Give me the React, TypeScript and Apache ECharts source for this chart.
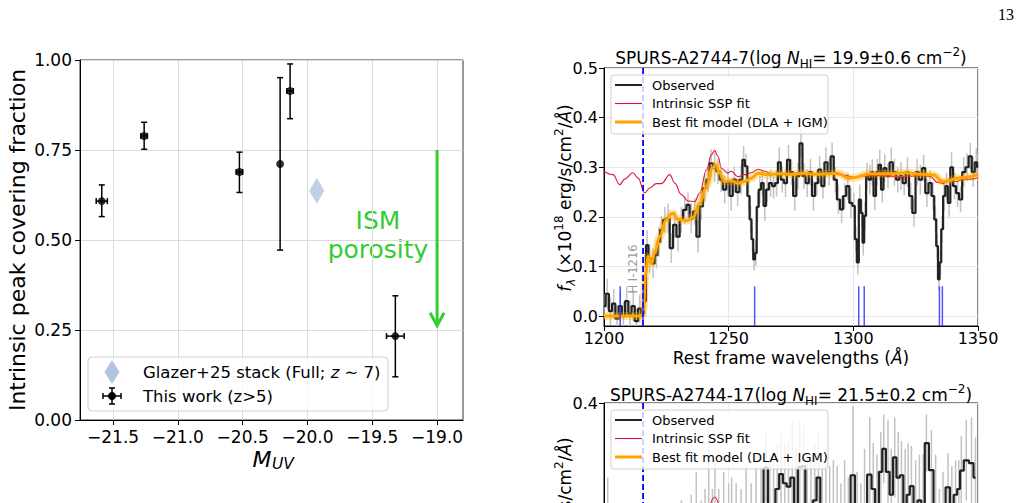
import React, { useEffect, useRef } from "react";
import * as echarts from "echarts";

const FONT = "DejaVu Sans";
const GREEN = "#32cd32";

// ---- Left panel: intrinsic peak covering fraction vs M_UV ----
const MUV = [-21.587, -21.26, -20.525, -20.211, -20.134, -19.322];
const MUV_ERR = [0.043, 0.025, 0.025, 0.0, 0.025, 0.068];
const FCOV = [0.608, 0.789, 0.689, 0.711, 0.914, 0.233];
const FCOV_LO = [0.565, 0.752, 0.632, 0.472, 0.837, 0.12];
const FCOV_HI = [0.653, 0.827, 0.744, 0.951, 0.989, 0.345];
const GLAZER_MUV = [-19.928];
const GLAZER_FCOV = [0.637];
const ARROW = [-19.0, 0.75, 0.262]; // x, start, end of the porosity arrow
const MUV_TICKS = [-21.5, -21.0, -20.5, -20.0, -19.5, -19.0];
const FCOV_TICKS = [0, 0.25, 0.5, 0.75, 1.0];

// ---- Right panels: spectra ----
const WAVE_TICKS = [1200, 1250, 1300, 1350];
const A7_FLUX_TICKS = [0, 0.1, 0.2, 0.3, 0.4, 0.5];
const A17_FLUX_TICKS = [0, 0.2, 0.4];
const LYA = 1215.67;
const ISM_LINES = [1206.5, 1215.67, 1260.42, 1302.17, 1304.37, 1334.53, 1335.71];

// [wavelength, flux, error]
const A7_OBSERVED = [
  [1200.0, 0.02, 0.025], [1201.3, 0.045, 0.03], [1202.6, 0.01, 0.028], [1203.9, 0.025, 0.03],
  [1205.2, -0.005, 0.027], [1206.5, 0.02, 0.03], [1207.8, 0.0, 0.028], [1209.1, 0.03, 0.03],
  [1210.4, 0.005, 0.026], [1211.7, 0.02, 0.03], [1213.0, -0.01, 0.025], [1214.3, 0.015, 0.028],
  [1215.4, 0.005, 0.025], [1216.4, 0.03, 0.03], [1217.3, 0.143, 0.03], [1218.3, 0.116, 0.028],
  [1219.7, 0.106, 0.03], [1221.0, 0.123, 0.027], [1222.0, 0.15, 0.03], [1223.0, 0.174, 0.028],
  [1224.4, 0.194, 0.026], [1225.7, 0.197, 0.03], [1227.0, 0.137, 0.03], [1228.4, 0.184, 0.027],
  [1229.7, 0.16, 0.03], [1231.0, 0.194, 0.026], [1232.4, 0.214, 0.028], [1233.7, 0.224, 0.025],
  [1235.0, 0.197, 0.03], [1236.4, 0.211, 0.027], [1237.7, 0.16, 0.032], [1239.0, 0.221, 0.028],
  [1240.4, 0.258, 0.027], [1241.7, 0.275, 0.025], [1243.0, 0.308, 0.028], [1244.4, 0.30, 0.03],
  [1245.7, 0.292, 0.026], [1247.0, 0.275, 0.025], [1248.4, 0.255, 0.028], [1249.7, 0.27, 0.027],
  [1251.0, 0.242, 0.03], [1252.3, 0.275, 0.026], [1253.6, 0.25, 0.028], [1255.0, 0.275, 0.03],
  [1256.0, 0.315, 0.028], [1257.0, 0.302, 0.025], [1258.0, 0.242, 0.03], [1258.8, 0.195, 0.027],
  [1259.5, 0.155, 0.025], [1260.2, 0.114, 0.022], [1260.9, 0.127, 0.025], [1261.6, 0.22, 0.03],
  [1262.5, 0.255, 0.027], [1263.5, 0.268, 0.025], [1264.5, 0.222, 0.03], [1265.5, 0.255, 0.026],
  [1266.8, 0.268, 0.028], [1268.0, 0.262, 0.025], [1269.2, 0.268, 0.027], [1270.3, 0.31, 0.03],
  [1271.5, 0.275, 0.026], [1272.8, 0.268, 0.028], [1274.0, 0.315, 0.03], [1275.2, 0.29, 0.026],
  [1276.5, 0.242, 0.03], [1277.8, 0.282, 0.027], [1279.0, 0.348, 0.028], [1280.2, 0.282, 0.026],
  [1281.5, 0.268, 0.028], [1282.8, 0.29, 0.027], [1284.0, 0.242, 0.03], [1285.3, 0.268, 0.026],
  [1286.5, 0.295, 0.028], [1287.8, 0.262, 0.025], [1289.0, 0.31, 0.03], [1290.3, 0.29, 0.027],
  [1291.5, 0.322, 0.028], [1292.8, 0.275, 0.026], [1294.0, 0.235, 0.03], [1295.3, 0.215, 0.027],
  [1296.5, 0.242, 0.026], [1297.8, 0.262, 0.028], [1299.0, 0.228, 0.03], [1300.2, 0.222, 0.026],
  [1301.0, 0.155, 0.025], [1301.8, 0.108, 0.024], [1302.6, 0.235, 0.03], [1303.4, 0.208, 0.027],
  [1304.0, 0.148, 0.026], [1304.7, 0.202, 0.028], [1305.5, 0.282, 0.027], [1306.6, 0.275, 0.03],
  [1307.6, 0.29, 0.026], [1308.6, 0.242, 0.028], [1309.6, 0.29, 0.027], [1310.6, 0.305, 0.03],
  [1311.6, 0.255, 0.026], [1312.6, 0.298, 0.028], [1313.9, 0.282, 0.025], [1315.2, 0.31, 0.03],
  [1316.5, 0.29, 0.027], [1317.8, 0.275, 0.026], [1319.1, 0.282, 0.028], [1320.4, 0.268, 0.025],
  [1321.7, 0.29, 0.03], [1323.0, 0.242, 0.027], [1324.3, 0.208, 0.028], [1325.6, 0.29, 0.026],
  [1326.9, 0.275, 0.03], [1328.2, 0.298, 0.027], [1329.5, 0.248, 0.028], [1330.8, 0.268, 0.026],
  [1332.0, 0.242, 0.028], [1332.9, 0.195, 0.026], [1333.6, 0.141, 0.025], [1334.3, 0.074, 0.022],
  [1334.9, 0.108, 0.025], [1335.6, 0.175, 0.027], [1336.4, 0.242, 0.03], [1337.4, 0.262, 0.027],
  [1338.4, 0.228, 0.028], [1339.4, 0.30, 0.03], [1340.6, 0.262, 0.027], [1341.8, 0.248, 0.028],
  [1343.0, 0.235, 0.026], [1344.3, 0.29, 0.03], [1345.6, 0.30, 0.028], [1346.9, 0.322, 0.027],
  [1348.1, 0.29, 0.03], [1349.3, 0.31, 0.028], [1350.0, 0.30, 0.027],
];

const A7_SSP = [
  [1200.0, 0.292], [1203.6, 0.285], [1206.3, 0.265], [1208.3, 0.276], [1211.6, 0.289],
  [1213.7, 0.278], [1216.3, 0.248], [1218.3, 0.258], [1221.0, 0.267], [1223.0, 0.267],
  [1226.4, 0.285], [1228.4, 0.268], [1231.0, 0.245], [1233.7, 0.232], [1236.4, 0.231],
  [1238.4, 0.248], [1241.1, 0.295], [1243.1, 0.325], [1244.4, 0.334], [1245.7, 0.322],
  [1247.1, 0.298], [1249.7, 0.288], [1251.0, 0.292], [1253.7, 0.281], [1256.4, 0.285],
  [1259.1, 0.289], [1261.8, 0.296], [1264.4, 0.292], [1267.1, 0.287], [1272.0, 0.286],
  [1278.0, 0.289], [1284.0, 0.287], [1290.0, 0.288], [1296.0, 0.284], [1301.0, 0.280],
  [1306.0, 0.283], [1312.0, 0.283], [1318.0, 0.281], [1324.0, 0.282], [1328.0, 0.284],
  [1331.0, 0.281], [1333.5, 0.270], [1336.0, 0.267], [1338.7, 0.275], [1341.3, 0.271],
  [1344.0, 0.276], [1347.0, 0.276], [1350.0, 0.279],
];

const A7_MODEL = [
  [1200.0, 0.0], [1215.3, 0.0], [1215.8, 0.012], [1216.7, 0.086], [1217.7, 0.12],
  [1219.0, 0.106], [1220.3, 0.127], [1222.3, 0.16], [1225.0, 0.194], [1227.4, 0.207],
  [1229.7, 0.195], [1233.0, 0.192], [1235.7, 0.199], [1238.4, 0.228], [1241.1, 0.261],
  [1243.5, 0.298], [1244.8, 0.305], [1246.4, 0.288], [1248.4, 0.271], [1251.0, 0.273],
  [1253.7, 0.268], [1256.4, 0.271], [1259.1, 0.278], [1261.8, 0.288], [1265.8, 0.285],
  [1269.8, 0.287], [1275.0, 0.286], [1280.0, 0.288], [1285.0, 0.286], [1290.0, 0.287],
  [1293.9, 0.288], [1297.9, 0.278], [1300.0, 0.279], [1306.6, 0.287], [1314.6, 0.287],
  [1321.3, 0.289], [1327.0, 0.286], [1332.0, 0.285], [1336.0, 0.271], [1338.5, 0.273],
  [1341.3, 0.278], [1345.0, 0.280], [1350.0, 0.285],
];

// [wavelength, flux, error]
const A17_OBSERVED = [
  [1200.5, 0.02, 0.1], [1201.5, 0.05, 0.22], [1203.0, 0.01, 0.08], [1205.0, 0.03, 0.09],
  [1207.0, -0.01, 0.08], [1209.0, 0.02, 0.1], [1211.0, 0.0, 0.09], [1213.0, 0.03, 0.08],
  [1215.0, 0.01, 0.09], [1217.0, 0.04, 0.1], [1219.0, 0.06, 0.1], [1221.0, 0.03, 0.12],
  [1223.0, 0.08, 0.1], [1225.0, 0.05, 0.12], [1227.0, 0.1, 0.1], [1229.0, 0.07, 0.12],
  [1231.0, 0.12, 0.11], [1233.0, 0.09, 0.12], [1235.0, 0.14, 0.1], [1237.0, 0.16, 0.12],
  [1239.0, 0.11, 0.12], [1240.5, 0.15, 0.1], [1242.0, 0.2, 0.18], [1243.5, 0.15, 0.1],
  [1244.5, 0.18, 0.12], [1246.0, 0.14, 0.11], [1248.0, 0.19, 0.09], [1250.0, 0.16, 0.1],
  [1251.2, 0.18, 0.09], [1253.0, 0.2, 0.06], [1255.0, 0.15, 0.1], [1257.0, 0.21, 0.08],
  [1259.0, 0.17, 0.09], [1261.0, 0.22, 0.07], [1263.0, 0.19, 0.1], [1265.0, 0.287, 0.06],
  [1266.5, 0.22, 0.09], [1268.0, 0.2, 0.1], [1269.5, 0.25, 0.08], [1271.0, 0.276, 0.07],
  [1272.5, 0.26, 0.07], [1274.0, 0.254, 0.08], [1275.5, 0.27, 0.1], [1277.0, 0.2, 0.12],
  [1278.5, 0.288, 0.08], [1280.0, 0.29, 0.07], [1281.5, 0.21, 0.1], [1283.0, 0.18, 0.12],
  [1284.5, 0.23, 0.1], [1286.0, 0.27, 0.08], [1287.5, 0.2, 0.09], [1289.0, 0.22, 0.1],
  [1290.5, 0.17, 0.12], [1292.0, 0.21, 0.09], [1293.5, 0.19, 0.1], [1295.0, 0.15, 0.11],
  [1296.5, 0.2, 0.1], [1298.0, 0.18, 0.09], [1299.8, 0.274, 0.12], [1301.5, 0.2, 0.08],
  [1303.0, 0.17, 0.09], [1304.5, 0.22, 0.1], [1306.6, 0.275, 0.1], [1308.0, 0.25, 0.08],
  [1309.5, 0.21, 0.1], [1311.0, 0.28, 0.07], [1312.2, 0.32, 0.06], [1313.9, 0.28, 0.09],
  [1315.2, 0.24, 0.08], [1316.6, 0.305, 0.07], [1318.0, 0.27, 0.08], [1319.3, 0.274, 0.06],
  [1320.8, 0.22, 0.1], [1322.0, 0.24, 0.09], [1323.3, 0.255, 0.07], [1325.0, 0.2, 0.1],
  [1326.5, 0.23, 0.08], [1328.0, 0.21, 0.1], [1329.3, 0.33, 0.05], [1331.3, 0.283, 0.07],
  [1333.0, 0.22, 0.09], [1334.5, 0.15, 0.1], [1336.0, 0.2, 0.08], [1338.0, 0.253, 0.06],
  [1339.5, 0.22, 0.07], [1341.0, 0.24, 0.06], [1342.3, 0.25, 0.05], [1343.3, 0.282, 0.06],
  [1345.3, 0.3, 0.07], [1347.4, 0.295, 0.08], [1349.0, 0.27, 0.07],
];

const A17_SSP = [
  [1200, 0.2], [1206, 0.18], [1212, 0.2], [1216, 0.17], [1222, 0.185], [1227, 0.2],
  [1232, 0.17], [1236, 0.16], [1240, 0.2], [1244.4, 0.236], [1248, 0.205], [1255, 0.2],
  [1265, 0.205], [1280, 0.2], [1300, 0.195], [1320, 0.2], [1334, 0.185], [1350, 0.195],
];

const minus = (s: string) => s.replace("-", "\u2212");

function axisBase(fontSize: number, margin: number, ticks: number[] | null, fmt: (v: number) => string, gridColor: string) {
  const label: any = { color: "#000", fontSize, margin, fontFamily: FONT, formatter: fmt };
  const tick: any = { show: true, length: 5, lineStyle: { color: "#000", width: 1 } };
  if (ticks) {
    label.customValues = ticks;
    tick.customValues = ticks;
  }
  return {
    axisLine: { show: true, onZero: false, lineStyle: { color: "#000", width: 1 } },
    axisTick: tick,
    axisLabel: label,
    splitLine: { show: true, lineStyle: { color: gridColor, width: 1 } },
  };
}

function renderSpecErr(_p: any, api: any) {
  const x = api.value(0);
  const f = api.value(1);
  const e = api.value(2);
  const a = api.coord([x, f - e]);
  const b = api.coord([x, f + e]);
  return {
    type: "line",
    shape: { x1: a[0], y1: a[1], x2: b[0], y2: b[1] },
    style: { stroke: "#c2c2c2", lineWidth: 1.5 },
  };
}

function spectrumSeries(idx: number, obs: number[][], ssp: number[][], model: number[][] | null, ymin: number, ymax: number) {
  const s: any[] = [
    {
      type: "custom", xAxisIndex: idx, yAxisIndex: idx, clip: true,
      renderItem: renderSpecErr, encode: { x: 0, y: 1 },
      data: obs, z: 2,
    },
    {
      type: "line", xAxisIndex: idx, yAxisIndex: idx, step: "middle", showSymbol: false,
      data: obs.map((d) => [d[0], d[1]]),
      lineStyle: { color: "#222", width: 2.2 }, z: 3,
    },
    {
      type: "line", xAxisIndex: idx, yAxisIndex: idx, smooth: 0.4, smoothMonotone: "x", showSymbol: false,
      data: ssp, lineStyle: { color: "#dc143c", width: 1.1 }, z: 4,
    },
  ];
  if (model) {
    s.push(
      {
        type: "line", xAxisIndex: idx, yAxisIndex: idx, smooth: 0.4, smoothMonotone: "x", showSymbol: false,
        data: model, lineStyle: { color: "rgba(255,165,0,0.3)", width: 8 }, z: 5,
      },
      {
        type: "line", xAxisIndex: idx, yAxisIndex: idx, smooth: 0.4, smoothMonotone: "x", showSymbol: false,
        data: model, lineStyle: { color: "#ffa500", width: 3 }, z: 6,
      }
    );
  }
  s.push({
    type: "line", xAxisIndex: idx, yAxisIndex: idx, showSymbol: false,
    data: [[LYA, ymin], [LYA, ymax]],
    lineStyle: { color: "#0000ff", width: 1.8, type: [6, 3] }, z: 7,
  });
  return s;
}

function spectrumLegend(top: number) {
  const items = [
    { label: "Observed", color: "#222", width: 2 },
    { label: "Intrinsic SSP fit", color: "#dc143c", width: 1.1 },
    { label: "Best fit model (DLA + IGM)", color: "#ffa500", width: 3 },
  ];
  const els: any[] = [
    {
      type: "rect", z: 100,
      shape: { x: 611, y: top, width: 217, height: 59, r: 3 },
      style: { fill: "rgba(255,255,255,0.8)", stroke: "#d0d0d0", lineWidth: 1 },
    },
  ];
  items.forEach((it, i) => {
    const y = top + 10 + i * 18.5;
    els.push({
      type: "line", z: 101,
      shape: { x1: 615, y1: y, x2: 642, y2: y },
      style: { stroke: it.color, lineWidth: it.width },
    });
    els.push({
      type: "text", z: 101, x: 652, y,
      style: { text: it.label, fill: "#000", fontSize: 13, fontFamily: FONT, align: "left", verticalAlign: "middle" },
    });
  });
  return els;
}

const richBase = (size: number) => ({
  n: { fontSize: size, fontFamily: FONT, fill: "#000", lineHeight: 24 },
  i: { fontSize: size, fontFamily: FONT, fontStyle: "italic", fill: "#000", lineHeight: 24 },
  sub: { fontSize: Math.round(size * 0.7), fontFamily: FONT, fill: "#000", lineHeight: 12, verticalAlign: "bottom" },
  subi: { fontSize: Math.round(size * 0.7), fontFamily: FONT, fontStyle: "italic", fill: "#000", lineHeight: 12, verticalAlign: "bottom" },
  sup: { fontSize: Math.round(size * 0.7), fontFamily: FONT, fill: "#000", lineHeight: 12, verticalAlign: "top" },
});

function titleText(x: number, y: number, name: string, nhi: string) {
  return {
    type: "text", x, y, z: 50,
    style: {
      text: `{n|${name}(log }{i|N}{sub|HI}{n|= ${nhi} cm}{sup|\u22122}{n|)}`,
      rich: richBase(17), align: "center", verticalAlign: "middle",
    },
  };
}

function fluxLabel(x: number, y: number) {
  return {
    type: "text", x, y, z: 50, rotation: Math.PI / 2,
    style: {
      text: "{i|f}{subi|\u03bb}{n| (\u00d710}{sup|18}{n| erg/s/cm}{sup|2}{n|/}{i|\u00c5}{n|)}",
      rich: richBase(17), align: "center", verticalAlign: "middle",
    },
  };
}

function buildOption(): any {
  const covData = MUV.map((m, i) => [m, FCOV[i], MUV_ERR[i], FCOV_LO[i], FCOV_HI[i]]);

  const graphic: any[] = [
    // page number
    {
      type: "text", x: 1006, y: 14,
      style: { text: "13", fill: "#000", fontSize: 16, fontFamily: "Liberation Serif", align: "center", verticalAlign: "middle" },
    },
    // left panel axis titles
    {
      type: "text", x: 17, y: 240, rotation: Math.PI / 2,
      style: { text: "Intrinsic peak covering fraction", fill: "#000", fontSize: 22, fontFamily: FONT, align: "center", verticalAlign: "middle" },
    },
    {
      type: "text", x: 262, y: 459,
      style: { text: "M", fill: "#000", fontSize: 22, fontStyle: "italic", fontFamily: FONT, align: "center", verticalAlign: "middle" },
    },
    {
      type: "text", x: 272, y: 464,
      style: { text: "UV", fill: "#000", fontSize: 15.5, fontStyle: "italic", fontFamily: FONT, align: "left", verticalAlign: "middle" },
    },
    // ISM porosity annotation
    {
      type: "text", x: 378, y: 235,
      style: {
        text: "ISM\nporosity", fill: GREEN, fontSize: 25, lineHeight: 29, fontFamily: FONT,
        align: "center", verticalAlign: "middle",
      },
    },
    // left legend
    {
      type: "rect", z: 100,
      shape: { x: 88, y: 357, width: 300, height: 54, r: 4 },
      style: { fill: "rgba(255,255,255,0.8)", stroke: "#d0d0d0", lineWidth: 1 },
    },
    {
      type: "polygon", z: 101,
      shape: { points: [[112, 360], [119.5, 372], [112, 384], [104.5, 372]] },
      style: { fill: "#b0c4de" },
    },
    {
      type: "text", z: 101, x: 143, y: 372,
      style: {
        text: "{n|Glazer+25 stack (Full; }{i|z}{n| \u223c 7)}",
        rich: {
          n: { fontSize: 16.5, fontFamily: FONT, fill: "#000" },
          i: { fontSize: 16.5, fontFamily: FONT, fontStyle: "italic", fill: "#000" },
        },
        align: "left", verticalAlign: "middle",
      },
    },
    {
      type: "group", z: 101,
      children: [
        { type: "line", z: 101, shape: { x1: 112, y1: 388, x2: 112, y2: 404 }, style: { stroke: "#000", lineWidth: 1.5 } },
        { type: "line", z: 101, shape: { x1: 109, y1: 388, x2: 115, y2: 388 }, style: { stroke: "#000", lineWidth: 1.5 } },
        { type: "line", z: 101, shape: { x1: 109, y1: 404, x2: 115, y2: 404 }, style: { stroke: "#000", lineWidth: 1.5 } },
        { type: "line", z: 101, shape: { x1: 103, y1: 396, x2: 121, y2: 396 }, style: { stroke: "#000", lineWidth: 1.5 } },
        { type: "line", z: 101, shape: { x1: 103, y1: 393, x2: 103, y2: 399 }, style: { stroke: "#000", lineWidth: 1.5 } },
        { type: "line", z: 101, shape: { x1: 121, y1: 393, x2: 121, y2: 399 }, style: { stroke: "#000", lineWidth: 1.5 } },
        { type: "circle", z: 101, shape: { cx: 112, cy: 396, r: 4 }, style: { fill: "#000" } },
      ],
    },
    {
      type: "text", z: 101, x: 143, y: 396,
      style: { text: "This work (z>5)", fill: "#000", fontSize: 16.5, fontFamily: FONT, align: "left", verticalAlign: "middle" },
    },
    // right panels: titles and axis labels
    titleText(791, 58, "SPURS-A2744-7", "19.9\u00b10.6"),
    titleText(791, 395, "SPURS-A2744-17", "21.5\u00b10.2"),
    fluxLabel(565, 198),
    fluxLabel(565, 531),
    {
      type: "text", x: 791, y: 358,
      style: {
        text: "{n|Rest frame wavelengths (}{i|\u00c5}{n|)}",
        rich: {
          n: { fontSize: 17, fontFamily: FONT, fill: "#000" },
          i: { fontSize: 17, fontFamily: FONT, fontStyle: "italic", fill: "#000" },
        },
        align: "center", verticalAlign: "middle",
      },
    },
    {
      type: "text", x: 633, y: 269, rotation: Math.PI / 2, z: 10,
      style: { text: "H I-1216", fill: "#999", fontSize: 11.5, fontFamily: FONT, align: "center", verticalAlign: "middle" },
    },
    ...spectrumLegend(75),
    ...spectrumLegend(410),
  ];

  return {
    animation: false,
    backgroundColor: "#fff",
    textStyle: { fontFamily: FONT },
    grid: [
      { left: 80, top: 60, width: 383, height: 360, show: true, borderColor: "#333", borderWidth: 1, outerBoundsMode: "none", containLabel: false },
      { left: 604, top: 68, width: 374, height: 258, show: true, borderColor: "#111", borderWidth: 1, outerBoundsMode: "none", containLabel: false },
      { left: 604, top: 403, width: 374, height: 258, show: true, borderColor: "#111", borderWidth: 1, outerBoundsMode: "none", containLabel: false },
    ],
    xAxis: [
      {
        gridIndex: 0, type: "value", min: -21.755, max: -18.8,
        ...axisBase(17, 8, MUV_TICKS, (v: number) => minus(v.toFixed(1)), "#dcdcdc"),
      },
      {
        gridIndex: 1, type: "value", min: 1200, max: 1350, interval: 50,
        ...axisBase(16, 4, WAVE_TICKS, (v: number) => String(v), "#e8e8e8"),
      },
      {
        gridIndex: 2, type: "value", min: 1200, max: 1350, interval: 50,
        ...axisBase(16, 4, WAVE_TICKS, (v: number) => String(v), "#e8e8e8"),
      },
    ],
    yAxis: [
      {
        gridIndex: 0, type: "value", min: 0, max: 1, interval: 0.25,
        ...axisBase(17, 8, FCOV_TICKS, (v: number) => v.toFixed(2), "#dcdcdc"),
      },
      {
        gridIndex: 1, type: "value", min: -0.02, max: 0.5,
        ...axisBase(16, 6, A7_FLUX_TICKS, (v: number) => v.toFixed(1), "#e8e8e8"),
      },
      {
        gridIndex: 2, type: "value", min: -0.05, max: 0.4,
        ...axisBase(16, 6, A17_FLUX_TICKS, (v: number) => v.toFixed(1), "#e8e8e8"),
      },
    ],
    graphic,
    series: [
      // error bars of this work
      {
        type: "custom", xAxisIndex: 0, yAxisIndex: 0, encode: { x: 0, y: 1 }, z: 3,
        data: covData,
        renderItem: (_p: any, api: any) => {
          const x = api.value(0);
          const y = api.value(1);
          const xe = api.value(2);
          const top = api.coord([x, api.value(4)]);
          const bot = api.coord([x, api.value(3)]);
          const st = { stroke: "#000", lineWidth: 1.5 };
          const cap = 3;
          const children: any[] = [
            { type: "line", shape: { x1: top[0], y1: top[1], x2: bot[0], y2: bot[1] }, style: st },
            { type: "line", shape: { x1: top[0] - cap, y1: top[1], x2: top[0] + cap, y2: top[1] }, style: st },
            { type: "line", shape: { x1: bot[0] - cap, y1: bot[1], x2: bot[0] + cap, y2: bot[1] }, style: st },
          ];
          if (xe > 0) {
            const l = api.coord([x - xe, y]);
            const r = api.coord([x + xe, y]);
            children.push(
              { type: "line", shape: { x1: l[0], y1: l[1], x2: r[0], y2: r[1] }, style: st },
              { type: "line", shape: { x1: l[0], y1: l[1] - cap, x2: l[0], y2: l[1] + cap }, style: st },
              { type: "line", shape: { x1: r[0], y1: r[1] - cap, x2: r[0], y2: r[1] + cap }, style: st }
            );
          }
          return { type: "group", children };
        },
      },
      {
        type: "scatter", xAxisIndex: 0, yAxisIndex: 0, symbol: "circle", symbolSize: 8, z: 4,
        itemStyle: { color: "#000" },
        data: MUV.map((m, i) => [m, FCOV[i]]),
      },
      {
        type: "scatter", xAxisIndex: 0, yAxisIndex: 0, symbol: "diamond", symbolSize: [15, 26], z: 4,
        itemStyle: { color: "#b0c4de" },
        data: GLAZER_MUV.map((m, i) => [m, GLAZER_FCOV[i]]),
      },
      {
        type: "custom", xAxisIndex: 0, yAxisIndex: 0, encode: { x: 0, y: [1, 2] }, z: 4,
        data: [ARROW],
        renderItem: (_p: any, api: any) => {
          const x = api.value(0);
          const a = api.coord([x, api.value(1)]);
          const b = api.coord([x, api.value(2)]);
          const st = { stroke: GREEN, lineWidth: 3, fill: "none" };
          return {
            type: "group",
            children: [
              { type: "line", shape: { x1: a[0], y1: a[1], x2: b[0], y2: b[1] - 1 }, style: st },
              { type: "polyline", shape: { points: [[b[0] - 7, b[1] - 13], [b[0], b[1]], [b[0] + 7, b[1] - 13]] }, style: st },
            ],
          };
        },
      },
      // spectra
      ...spectrumSeries(1, A7_OBSERVED, A7_SSP, A7_MODEL, -0.02, 0.5),
      {
        type: "custom", xAxisIndex: 1, yAxisIndex: 1, encode: { x: 0, y: 1 }, z: 8,
        data: ISM_LINES.map((w) => [w, 0]),
        renderItem: (_p: any, api: any) => {
          const w = api.value(0);
          const a = api.coord([w, -0.02]);
          const b = api.coord([w, 0.06]);
          return {
            type: "line",
            shape: { x1: a[0], y1: a[1], x2: b[0], y2: b[1] },
            style: { stroke: "rgba(40,40,255,0.8)", lineWidth: 1.5 },
          };
        },
      },
      ...spectrumSeries(2, A17_OBSERVED, A17_SSP, null, -0.05, 0.4),
    ],
  };
}

export default function App() {
  const ref = useRef<HTMLDivElement>(null);
  useEffect(() => {
    const chart = echarts.init(ref.current!, null, { renderer: "svg" });
    chart.setOption(buildOption());
    return () => chart.dispose();
  }, []);
  return (
    <div
      ref={ref}
      style={{ position: "fixed", left: 0, top: 0, width: 1022, height: 503, background: "#fff", overflow: "hidden" }}
    />
  );
}
